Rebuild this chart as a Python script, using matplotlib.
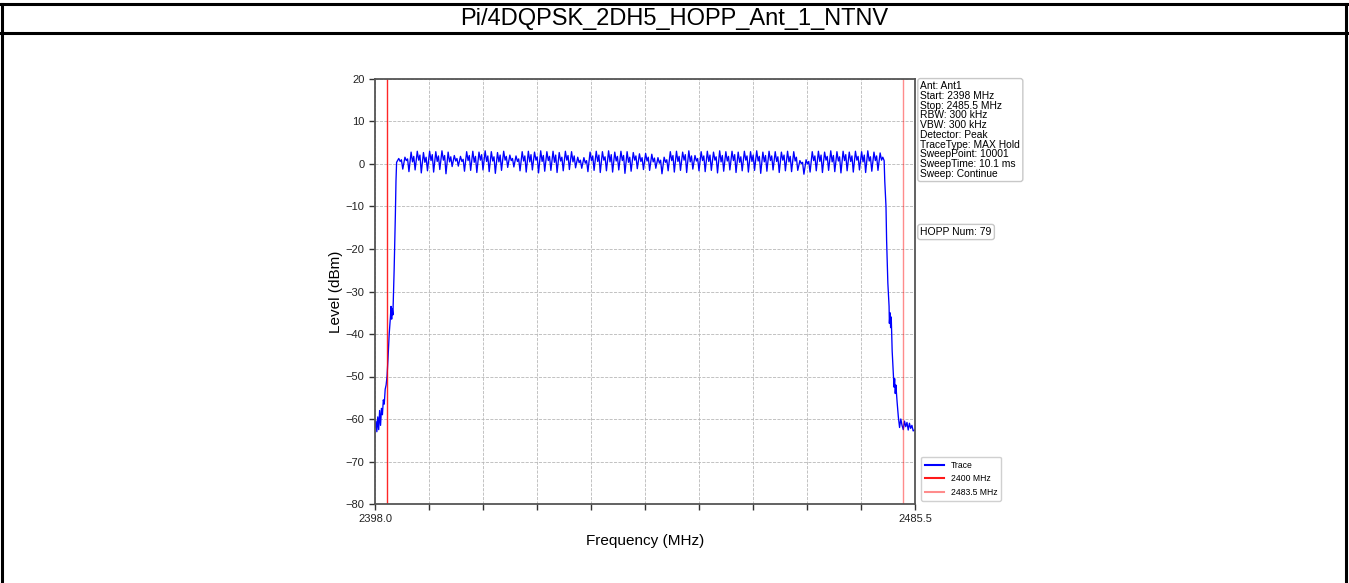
import numpy as np
import matplotlib
matplotlib.use('Agg')
import matplotlib.pyplot as plt
from matplotlib.lines import Line2D

plt.rcParams['font.family'] = ['Liberation Sans', 'DejaVu Sans']

title = 'Pi/4DQPSK_2DH5_HOPP_Ant_1_NTNV'
f_start, f_stop = 2398.0, 2485.5
limit_low, limit_high = 2400.0, 2483.5

# lower skirt (MHz, dBm)
skirt_lo_f = [2398.0, 2398.15, 2398.3, 2398.45, 2398.6, 2398.75, 2398.9, 2399.05, 2399.2,
              2399.35, 2399.5, 2399.65, 2399.8, 2399.95, 2400.1, 2400.3, 2400.5, 2400.6,
              2400.7, 2400.8, 2400.9, 2401.1, 2401.3, 2401.4]
skirt_lo_db = [-62.0, -60.5, -63.0, -59.5, -62.5, -58.0, -61.5, -57.5, -59.0,
               -55.5, -56.5, -53.0, -52.0, -50.0, -46.0, -40.0, -36.0, -33.5,
               -36.5, -34.0, -35.5, -25.0, -12.0, -4.0]

# hopping channels 2402..2480 MHz
channels = np.arange(2402, 2481)
# main peak of each channel (dBm)
peak_db = [1.3, 1.6, 2.8, 3.0, 2.7, 3.0, 2.9, 3.1, 2.8, 2.0,
           1.8, 2.9, 3.0, 2.8, 3.1, 2.9, 2.7, 3.0, 2.1, 1.9,
           2.9, 3.0, 2.8, 3.1, 2.9, 3.0, 2.7, 3.0, 2.9, 1.6,
           1.5, 2.8, 3.0, 2.9, 3.1, 2.8, 3.0, 2.9, 2.7, 2.4,
           2.5, 2.3, 1.5, 1.6, 2.9, 3.0, 2.8, 3.1, 2.0, 2.9,
           3.0, 2.8, 3.1, 2.9, 3.0, 2.8, 3.0, 2.9, 3.1, 2.8,
           3.0, 2.9, 2.8, 3.0, 2.9, 0.8, 1.0, 2.9, 3.0, 2.8,
           3.1, 2.9, 3.0, 2.8, 3.0, 2.9, 3.1, 2.8, 2.6]
# level just after the main peak
body_db = [0.6, 0.8, 0.5, 0.9, 0.4, 0.8, 0.6, 0.9, 0.5, 0.7,
           0.6, 0.8, 0.4, 0.9, 0.6, 0.7, 0.5, 0.9, 0.8, 0.6,
           0.7, 0.5, 0.9, 0.6, 0.8, 0.4, 0.7, 0.9, 0.5, 0.3,
           0.2, 0.8, 0.6, 0.9, 0.5, 0.7, 0.8, 0.4, 0.9, 0.6,
           0.7, 0.5, 0.2, 0.4, 0.8, 0.6, 0.9, 0.5, 0.7, 0.8,
           0.6, 0.9, 0.5, 0.7, 0.8, 0.4, 0.9, 0.6, 0.7, 0.5,
           0.8, 0.6, 0.9, 0.5, 0.7, 0.1, 0.0, 0.8, 0.6, 0.9,
           0.5, 0.7, 0.8, 0.6, 0.9, 0.5, 0.7, 0.8, 0.9]
# second, smaller peak on the upper side of each channel
peak2_db = [1.0, 1.2, 1.8, 2.1, 1.6, 2.2, 1.9, 2.0, 1.7, 1.3,
            1.1, 2.0, 1.8, 2.2, 1.9, 1.7, 2.1, 1.8, 1.3, 1.2,
            1.9, 2.2, 1.7, 2.0, 1.8, 2.1, 1.6, 2.0, 1.9, 0.9,
            0.8, 1.9, 2.1, 1.7, 2.2, 1.8, 2.0, 1.6, 1.9, 1.5,
            1.6, 1.4, 0.9, 1.0, 2.0, 1.8, 2.2, 1.9, 1.3, 1.9,
            2.1, 1.7, 2.0, 1.8, 2.2, 1.7, 1.9, 2.1, 1.8, 2.0,
            1.9, 1.7, 2.1, 1.8, 1.6, 0.4, 0.6, 1.9, 2.1, 1.8,
            2.0, 1.7, 2.2, 1.9, 1.8, 2.1, 1.7, 1.9, 1.6]
# channel edges (80 boundaries incl. both band ends)
edge_db = [0.4, -1.2, -1.8, -1.4, -2.1, -1.6, -1.9, -1.3, -2.3, -0.6,
           -0.5, -1.7, -1.5, -2.0, -1.4, -1.8, -2.2, -1.5, -0.8, -0.7,
           -1.6, -1.9, -1.4, -2.1, -1.7, -1.5, -2.0, -1.6, -1.3, -0.9,
           -1.0, -1.8, -1.5, -2.0, -1.6, -1.9, -1.4, -2.2, -1.7, -1.1,
           -1.3, -1.5, -1.0, -2.3, -1.6, -1.9, -1.5, -2.0, -1.2, -1.6,
           -1.8, -1.5, -2.1, -1.7, -1.4, -2.0, -1.6, -1.9, -1.5, -2.2,
           -1.7, -1.4, -2.0, -1.6, -1.8, -1.5, -2.4, -1.9, -1.6, -2.0,
           -1.5, -1.8, -2.1, -1.6, -1.9, -1.4, -2.0, -1.7, -1.5, 0.8]

# upper skirt (MHz, dBm)
skirt_hi_f = [2480.6, 2480.8, 2480.9, 2481.1, 2481.3, 2481.35, 2481.45, 2481.55, 2481.65,
              2481.8, 2482.0, 2482.1, 2482.2, 2482.3, 2482.4, 2482.6, 2482.8, 2483.0,
              2483.2, 2483.4, 2483.6, 2483.8, 2484.0, 2484.2, 2484.4, 2484.6, 2484.8,
              2485.0, 2485.2, 2485.5]
skirt_hi_db = [-4.0, -10.0, -18.0, -28.0, -33.5, -37.5, -35.0, -38.5, -36.0,
               -44.0, -50.0, -52.5, -50.5, -54.0, -52.0, -56.0, -59.5, -62.0,
               -60.0, -61.5, -62.5, -60.5, -61.8, -60.8, -62.6, -61.0, -62.2,
               -61.5, -62.8, -62.5]

info_lines = ['Ant: Ant1', 'Start: 2398 MHz', 'Stop: 2485.5 MHz', 'RBW: 300 kHz',
              'VBW: 300 kHz', 'Detector: Peak', 'TraceType: MAX Hold',
              'SweepPoint: 10001', 'SweepTime: 10.1 ms', 'Sweep: Continue']
hopp_num = 79

# put the trace together channel by channel
band_f, band_db = [], []
for i, ch in enumerate(channels):
    band_f += [ch - 0.5, ch - 0.15, ch + 0.08, ch + 0.28]
    band_db += [edge_db[i], peak_db[i], body_db[i], peak2_db[i]]
band_f.append(channels[-1] + 0.5)
band_db.append(edge_db[-1])

trace_f = np.concatenate([skirt_lo_f, band_f, skirt_hi_f])
trace_db = np.concatenate([skirt_lo_db, band_db, skirt_hi_db])

fig = plt.figure(figsize=(13.49, 5.83), dpi=100)

# table frame with the title row
frame = dict(color='black', lw=2.2, transform=fig.transFigure)
fig.add_artist(Line2D([0, 1], [1 - 4 / 583, 1 - 4 / 583], **frame))
fig.add_artist(Line2D([0, 1], [1 - 33 / 583, 1 - 33 / 583], **frame))
fig.add_artist(Line2D([2 / 1349, 2 / 1349], [0, 1 - 4 / 583], **frame))
fig.add_artist(Line2D([1 - 3 / 1349, 1 - 3 / 1349], [0, 1 - 4 / 583], **frame))
fig.text(0.5, 1 - 19 / 583, title, ha='center', va='center', fontsize=17)

ax = fig.add_axes([375 / 1349, 79 / 583, 540 / 1349, 425 / 583])
ax.plot(trace_f, trace_db, color='blue', lw=0.95)
ax.axvline(limit_low, color='red', lw=1.0, alpha=0.85)
ax.axvline(limit_high, color='red', lw=1.0, alpha=0.45)

ax.set_xlim(f_start, f_stop)
ax.set_ylim(-80, 20)
xt = np.linspace(f_start, f_stop, 11)
ax.set_xticks(xt)
ax.set_xticklabels(['2398.0'] + [''] * 9 + ['2485.5'])
ax.set_yticks(np.arange(-80, 21, 10))
ax.tick_params(labelsize=8, length=4, width=1, color='#333333', labelcolor='#222222')
ax.grid(True, linestyle='--', color='#b8b8b8', lw=0.6)
for s in ax.spines.values():
    s.set_color('#555555')
    s.set_linewidth(1.3)
ax.set_xlabel('Frequency (MHz)', fontsize=11, labelpad=7)
ax.set_ylabel('Level (dBm)', fontsize=11, labelpad=2)

box = dict(boxstyle='round,pad=0.25', fc='white', ec='#c8c8c8', lw=1)
ax.text(1.01, 0.995, '\n'.join(info_lines), transform=ax.transAxes, fontsize=7.4,
        va='top', ha='left', linespacing=0.97, bbox=box)
ax.text(1.01, 0.64, f'HOPP Num: {hopp_num}', transform=ax.transAxes, fontsize=7.5,
        va='center', ha='left', bbox=box)

handles = [Line2D([], [], color='blue', lw=1.5),
           Line2D([], [], color='red', lw=1.5, alpha=0.9),
           Line2D([], [], color='red', lw=1.5, alpha=0.45)]
ax.legend(handles, ['Trace', '2400 MHz', '2483.5 MHz'], loc='lower left',
          bbox_to_anchor=(1.003, -0.003), fontsize=6.2, handlelength=2.2,
          borderpad=0.45, labelspacing=0.55, framealpha=1,
          edgecolor='#d0d0d0', fancybox=True)

fig.savefig('out.png', dpi=100)
